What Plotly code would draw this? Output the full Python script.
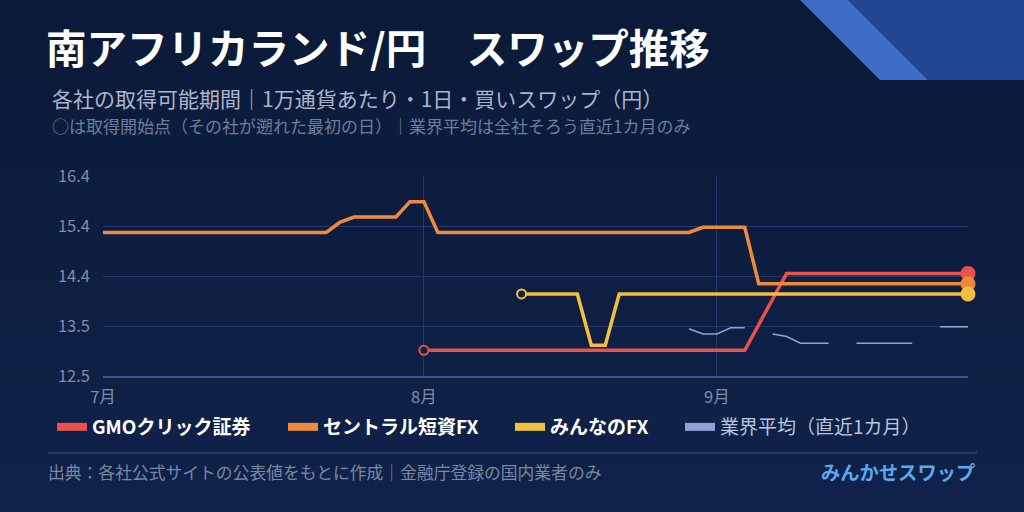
import plotly.graph_objects as go

# ---- data ----
GMO_DATES = ["2025-08-01", "2025-09-03", "2025-09-08", "2025-09-25"]
GMO_VALUES = [13.0, 13.0, 14.5, 14.5]

CENTRAL_DATES = ["2025-07-01", "2025-07-23", "2025-07-24", "2025-07-25", "2025-07-30",
                 "2025-07-31", "2025-08-01", "2025-08-04", "2025-08-28", "2025-08-29",
                 "2025-09-03", "2025-09-04", "2025-09-25"]
CENTRAL_VALUES = [15.3, 15.3, 15.5, 15.6, 15.6, 15.9, 15.9, 15.3, 15.3, 15.4, 15.4, 14.3, 14.3]

MINNANO_DATES = ["2025-08-12", "2025-08-18", "2025-08-19", "2025-08-20", "2025-08-21", "2025-09-25"]
MINNANO_VALUES = [14.1, 14.1, 13.1, 13.1, 14.1, 14.1]

AVG_DATES = ["2025-08-28", "2025-08-29", "2025-09-01", "2025-09-02", "2025-09-03", "2025-09-04",
             "2025-09-05", "2025-09-08", "2025-09-09", "2025-09-10", "2025-09-11", "2025-09-12",
             "2025-09-15", "2025-09-16", "2025-09-17", "2025-09-18", "2025-09-19", "2025-09-22",
             "2025-09-23", "2025-09-24", "2025-09-25"]
AVG_VALUES = [13.42, 13.32, 13.32, 13.44, 13.44, None,
              13.32, 13.27, 13.14, 13.14, 13.14, None,
              13.14, 13.14, 13.14, 13.14, 13.14, None,
              13.46, 13.46, 13.46]

SERIES_NAMES = ["GMOクリック証券", "セントラル短資FX", "みんなのFX", "業界平均（直近1カ月）"]
X_TICKS = ["2025-07-01", "2025-08-01", "2025-09-01"]
X_TICK_LABELS = ["7月", "8月", "9月"]
Y_RANGE = [12.5, 16.4]
Y_TICK_LABELS = ["12.5", "13.5", "14.4", "15.4", "16.4"]

FONT = "Noto Sans CJK JP"
BG_TOP = (11, 26, 56)
BG_BOTTOM = (16, 34, 74)
COLORS = ["#e8524a", "#f08a3a", "#f2c03e", "#8fa4d2"]
LEGEND_X = [52, 283, 510, 680]   # left edge of each legend entry, px

# plot box in pixels
L, R, T, B = 103, 968, 176, 376
W, H = R - L, B - T


def px(x):
    return (x - L) / W


def py(y):
    return (B - y) / H


def end_markers(n, color, start_open=True):
    # open circle at the first available day, filled dot at the latest day
    sizes = [0] * n
    fills = [color] * n
    if start_open:
        sizes[0] = 9
        fills[0] = "#0f2046"
    sizes[-1] = 13
    return dict(size=sizes, color=fills, opacity=1, line=dict(color=color, width=2))


traces = [
    go.Scatter(x=GMO_DATES, y=GMO_VALUES, mode="lines+markers", showlegend=False,
               line=dict(color=COLORS[0], width=3.5), cliponaxis=False,
               marker=end_markers(len(GMO_VALUES), COLORS[0])),
    go.Scatter(x=CENTRAL_DATES, y=CENTRAL_VALUES, mode="lines+markers", showlegend=False,
               line=dict(color=COLORS[1], width=3.5), cliponaxis=False,
               marker=end_markers(len(CENTRAL_VALUES), COLORS[1], start_open=False)),
    go.Scatter(x=MINNANO_DATES, y=MINNANO_VALUES, mode="lines+markers", showlegend=False,
               line=dict(color=COLORS[2], width=3.5), cliponaxis=False,
               marker=end_markers(len(MINNANO_VALUES), COLORS[2])),
    go.Scatter(x=AVG_DATES, y=AVG_VALUES, mode="lines", showlegend=False,
               connectgaps=False, line=dict(color=COLORS[3], width=1.6)),
]

# legend entries with thick swatches, one legend box per entry
legends = {}
for i, name in enumerate(SERIES_NAMES):
    key = "legend" if i == 0 else "legend%d" % (i + 1)
    label = "<b>%s</b>" % name if i < 3 else "<span style='color:#b9c5de'>%s</span>" % name
    traces.append(go.Scatter(x=[None], y=[None], mode="lines", name=label, legend=key,
                             line=dict(color=COLORS[i], width=8)))
    legends[key] = dict(
        orientation="h",
        xref="container", yref="container",
        x=LEGEND_X[i] / 1024, y=1 - 427 / 512,
        xanchor="left", yanchor="middle",
        bgcolor="rgba(0,0,0,0)",
        font=dict(family=FONT, size=19, color="#ffffff"),
        itemwidth=30,
    )

# background gradient bands
shapes = []
n_bands = 24
for i in range(n_bands):
    f = i / (n_bands - 1)
    c = tuple(round(BG_TOP[k] + (BG_BOTTOM[k] - BG_TOP[k]) * f) for k in range(3))
    shapes.append(dict(type="rect", xref="paper", yref="paper", layer="below",
                       x0=px(0), x1=px(1024), y0=py(512 * (i + 1) / n_bands), y1=py(512 * i / n_bands),
                       fillcolor="rgb(%d,%d,%d)" % c, line=dict(width=0)))


# corner decoration
def poly(points):
    return "M " + " L ".join("%f,%f" % (px(x), py(y)) for x, y in points) + " Z"


shapes.append(dict(type="path", xref="paper", yref="paper", layer="below",
                   path=poly([(848, 0), (1024, 0), (1024, 80), (928, 80)]),
                   fillcolor="#1d4592", line=dict(width=0)))
shapes.append(dict(type="path", xref="paper", yref="paper", layer="below",
                   path=poly([(800, 0), (848, 0), (928, 80), (880, 80)]),
                   fillcolor="#3d6dc6", line=dict(width=0)))
# separator above footer
shapes.append(dict(type="line", xref="paper", yref="paper",
                   x0=px(48), x1=px(977), y0=py(453), y1=py(453),
                   line=dict(color="#2d4578", width=1.5)))

annotations = [
    dict(text="各社の取得可能期間｜1万通貨あたり・1日・買いスワップ（円）",
         x=px(50), y=py(98), xref="paper", yref="paper", xanchor="left", yanchor="middle",
         showarrow=False, font=dict(family=FONT, size=21, color="#aab5ca")),
    dict(text="○は取得開始点（その社が遡れた最初の日）｜業界平均は全社そろう直近1カ月のみ",
         x=px(50), y=py(125), xref="paper", yref="paper", xanchor="left", yanchor="middle",
         showarrow=False, font=dict(family=FONT, size=17, color="#6f7d9c")),
    dict(text="出典：各社公式サイトの公表値をもとに作成｜金融庁登録の国内業者のみ",
         x=px(46), y=py(472), xref="paper", yref="paper", xanchor="left", yanchor="middle",
         showarrow=False, font=dict(family=FONT, size=16.8, color="#7a87a3")),
    dict(text="<b>みんかせスワップ</b>",
         x=px(977), y=py(472), xref="paper", yref="paper", xanchor="right", yanchor="middle",
         showarrow=False, font=dict(family=FONT, size=19.3, color="#5aa8ee")),
]

layout = go.Layout(
    width=1024,
    height=512,
    margin=dict(l=L, r=1024 - R, t=T, b=512 - B, autoexpand=False),
    paper_bgcolor="rgb(14,30,66)",
    plot_bgcolor="rgba(0,0,0,0)",
    font=dict(family=FONT, color="#7f8cab"),
    title=dict(text="<b>南アフリカランド/円　スワップ推移</b>", x=46 / 1024, xref="container",
               xanchor="left", y=1 - 50 / 512, yref="container", yanchor="middle",
               font=dict(family=FONT, size=40.5, color="#ffffff")),
    xaxis=dict(
        type="date",
        range=["2025-07-01", "2025-09-25"],
        rangebreaks=[dict(bounds=["sat", "mon"])],
        tickvals=X_TICKS,
        ticktext=X_TICK_LABELS,
        showgrid=True,
        gridcolor="#243a6c",
        gridwidth=1,
        showline=True,
        linecolor="#3a5389",
        linewidth=1.5,
        zeroline=False,
        ticks="",
        ticklabelstandoff=5,
        tickfont=dict(size=16.5, color="#7f8cab"),
    ),
    yaxis=dict(
        range=Y_RANGE,
        tickvals=[Y_RANGE[0] + (Y_RANGE[1] - Y_RANGE[0]) * i / 4 for i in range(5)],
        ticktext=Y_TICK_LABELS,
        showgrid=True,
        gridcolor="#243a6c",
        gridwidth=1,
        zeroline=False,
        showline=False,
        ticks="",
        ticklabelstandoff=12,
        tickfont=dict(size=16.5, color="#7f8cab"),
    ),
    shapes=shapes,
    annotations=annotations,
    **legends,
)

fig = go.Figure(data=traces, layout=layout)
fig.write_html("out.html", config={"displayModeBar": False},
               post_script="document.body.style.margin = '0';")
